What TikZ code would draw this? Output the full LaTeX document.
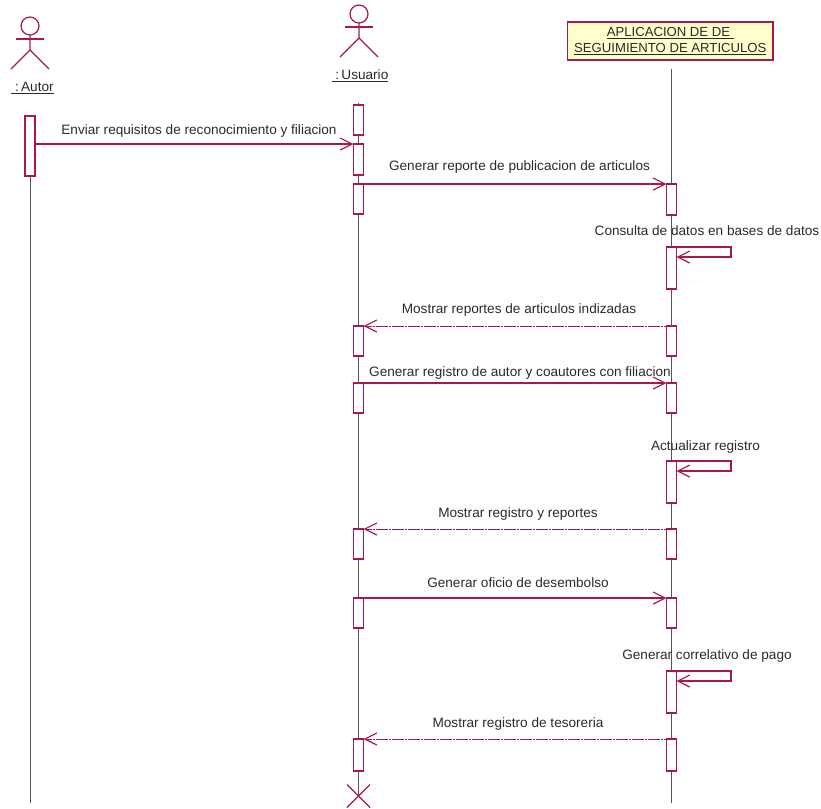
\documentclass[tikz,border=0pt]{standalone}
\usepackage{fontspec}
\setmainfont{Liberation Sans}
\usetikzlibrary{arrows.meta}
\definecolor{umlred}{HTML}{A8174F}
\definecolor{umlfill}{HTML}{FFFFCC}
\definecolor{umltext}{HTML}{2A2A2A}
\tikzset{
	bar/.style={draw=umlred, fill=white, line width=0.9pt, anchor=north, minimum width=7.5pt, inner sep=0pt, outer sep=0pt},
	head/.style={draw=umlred, circle, line width=0.9pt, minimum size=13.5pt, inner sep=0pt, outer sep=0pt},
	lifeline/.style={draw=umltext!80, line width=0.6pt},
	limb/.style={draw=umlred, line width=0.9pt},
	msg/.style={draw=umlred, line width=0.9pt, -{Straight Barb[length=9pt,width=9pt]}},
	reply/.style={draw=umlred, line width=0.7pt, dash pattern=on 2pt off 0.4pt, -{Straight Barb[length=9pt,width=9pt,line width=0.9pt]}},
	label/.style={text=umltext, font=\fontsize{10.2}{12}\selectfont, inner sep=0pt},
}
\begin{document}
\begin{tikzpicture}[x=0.75pt,y=-0.75pt]
	\useasboundingbox (0,0) rectangle (821,808);
	% lifelines
	\coordinate (autend) at (30,803);
	\coordinate (usutop) at (358.5,103);
	\coordinate (usuend) at (358.5,796);
	\coordinate (apptop) at (671.5,69);
	\coordinate (append) at (671.5,803);
	\draw[lifeline] (30,176) -- (autend);
	\draw[lifeline] (usutop) -- (usuend);
	\draw[lifeline] (apptop) -- (append);
	% actors
	\foreach \n/\x/\y in {aut/30/26,usu/359/14}
	{
		\node[head] (\n) at (\x,\y) {};
		\draw[limb] (\n.south) -- ++(0,15) coordinate (\n hip) -- ++(-19,19);
		\draw[limb] (\n hip) -- ++(19,19);
		\draw[limb] (\n.south) ++(-14,4) -- ++(28,0);
	}
	\node[label] (autname) at (32.5,88) {\underline{\ :\,Autor}};
	\node[label] (usuname) at (360,76) {\underline{\ :\,Usuario}};
	% object
	\node[draw=umlred, fill=umlfill, line width=0.9pt, minimum width=154pt, minimum height=28.5pt, inner sep=0pt, align=center, text=umltext, font=\fontsize{9.85}{12}\selectfont] (app) at (670.3,41)
		{\underline{APLICACION DE DE\ }\\\underline{SEGUIMIENTO DE ARTICULOS}};
	% activation bars
	\node[bar, minimum height=45pt] (aut1) at (30,116) {};
	\foreach \y/\h [count = \i] in {105/30,144/31,184/30,326/30,383/30,529/30,598/30,739/32}
	{
		\node[bar, minimum height=\h*0.75pt] (usu\i) at (358.5,\y) {};
	}
	\foreach \y/\h [count = \i] in {184/31,247/42,326/30,383/30,461/42,529/30,598/30,671/42,739/32}
	{
		\node[bar, minimum height=\h*0.75pt] (app\i) at (671.5,\y) {};
	}
	% calls
	\draw[msg] (aut1.east |- usu2.north) -- (usu2.north west);
	\draw[msg] (usu3.north east) -- (app1.north west);
	\draw[msg] (usu5.north east) -- (app4.north west);
	\draw[msg] (usu7.north east) -- (app7.north west);
	% self calls
	\foreach \i in {2,5,8}
	{
		\draw[msg] (app\i.north east) -- ++(54.5,0) -- ++(0,10) -- ++(-54.5,0);
	}
	% replies
	\draw[reply] (app3.north west) -- (usu4.north east);
	\draw[reply] (app6.north west) -- (usu6.north east);
	\draw[reply] (app9.north west) -- (usu8.north east);
	% destroy
	\draw[limb] (usuend) ++(-11.5,-11.5) -- ++(23,23);
	\draw[limb] (usuend) ++(11.5,-11.5) -- ++(-23,23);
	% labels
	\foreach \x/\y/\t [count = \i] in {199/131/Enviar requisitos de reconocimiento y filiacion,
		519.5/167/Generar reporte de publicacion de articulos,
		707/231/Consulta de datos en bases de datos,
		519/310/Mostrar reportes de articulos indizadas,
		520/373/Generar registro de autor y coautores con filiacion,
		705.5/447/Actualizar registro,
		518/514/Mostrar registro y reportes,
		518/583/Generar oficio de desembolso,
		707/656/Generar correlativo de pago,
		518/724/Mostrar registro de tesoreria}
	{
		\node[label] (msg\i) at (\x,\y) {\t};
	}
\end{tikzpicture}
\end{document}
